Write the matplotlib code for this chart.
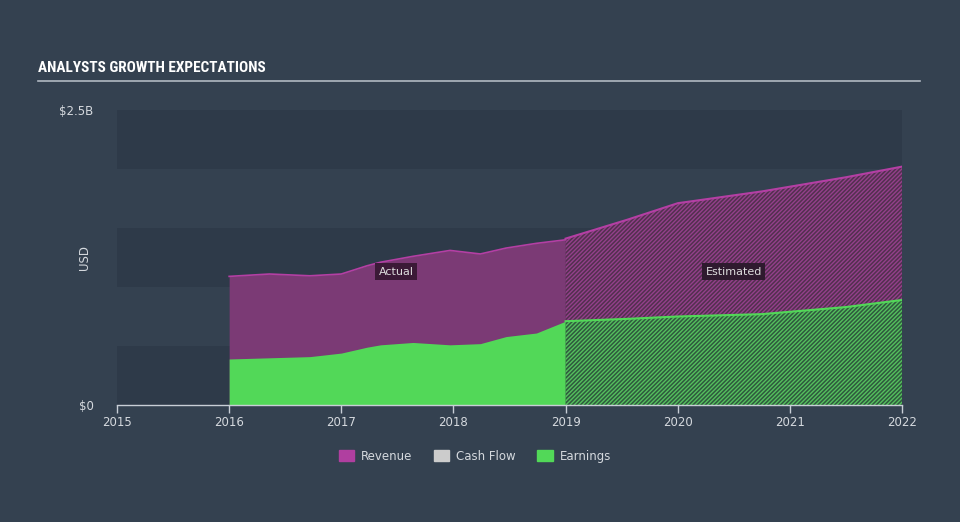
import matplotlib
matplotlib.use('Agg')
import matplotlib.pyplot as plt
import numpy as np
from matplotlib.patches import Patch

# actual (2016 -> 2019)
actYears = [2016.0, 2016.36, 2016.72, 2017.0, 2017.23, 2017.35, 2017.64, 2017.97, 2018.24, 2018.47, 2018.74, 2019.0]
actRevenue = [1.09, 1.11, 1.095, 1.11, 1.18, 1.21, 1.26, 1.31, 1.28, 1.33, 1.37, 1.40]
actEarnings = [0.39, 0.40, 0.41, 0.44, 0.49, 0.51, 0.53, 0.51, 0.52, 0.58, 0.61, 0.71]

# estimated (2019 -> 2022)
estYears = [2019.0, 2019.55, 2020.0, 2020.75, 2021.0, 2021.5, 2022.0]
estRevenue = [1.41, 1.57, 1.71, 1.81, 1.85, 1.93, 2.02]
estEarnings = [0.71, 0.73, 0.75, 0.77, 0.79, 0.83, 0.89]

xTicks = [2015, 2016, 2017, 2018, 2019, 2020, 2021, 2022]

bg = '#344150'
band = '#2e3a49'
revColor = '#7b3a75'
revLine = '#b43fa4'
earnColor = '#52d858'

plt.rcParams['font.family'] = ['DejaVu Sans']
plt.rcParams['hatch.linewidth'] = 1.0

fig = plt.figure(figsize=(9.6, 5.22), dpi=100, facecolor=bg)
ax = fig.add_axes([117/960, 117/522, 785/960, 295/522])
ax.set_facecolor(bg)
ax.set_xlim(2015, 2022)
ax.set_ylim(0, 2.5)

for y0 in [0.0, 1.0, 2.0]:
    ax.axhspan(y0, y0 + 0.5, color=band, lw=0, zorder=0)

# actual areas
ax.fill_between(actYears, 0, actRevenue, color=revColor, lw=0, zorder=2)
ax.plot(actYears, actRevenue, color=revLine, lw=1.2, zorder=3)
ax.fill_between(actYears, 0, actEarnings, color=earnColor, lw=0, zorder=4)

# estimated areas (hatched)
ax.fill_between(estYears, 0, estRevenue, facecolor='#53304f', edgecolor='#94408b',
                hatch='////////', lw=0, zorder=2)
ax.plot(estYears, estRevenue, color=revLine, lw=1.5, zorder=3)
ax.fill_between(estYears, 0, estEarnings, facecolor='#2f5a3e', edgecolor='#55c05e',
                hatch='////////', lw=0, zorder=4)
ax.plot(estYears, estEarnings, color=earnColor, lw=1.5, zorder=5)

ax.text(2017.49, 1.13, 'Actual', color='#dddddd', fontsize=8, ha='center', va='center',
        bbox=dict(boxstyle='square,pad=0.3', fc='#3b1a37', ec='none'), zorder=10)
ax.text(2020.5, 1.13, 'Estimated', color='#dddddd', fontsize=8, ha='center', va='center',
        bbox=dict(boxstyle='square,pad=0.3', fc='#2e1a2e', ec='none'), zorder=10)

for s in ['top', 'right', 'left']:
    ax.spines[s].set_visible(False)
ax.spines['bottom'].set_color('#c8ced6')
ax.spines['bottom'].set_linewidth(1)
ax.spines['bottom'].set_zorder(6)

ax.set_xticks(xTicks)
ax.set_xticklabels([str(x) for x in xTicks])
ax.tick_params(axis='x', colors='#c8ced6', length=6, width=1, labelsize=8.5, pad=2,
               labelcolor='#d5d9de')
ax.set_yticks([0, 2.5])
ax.set_yticklabels(['$0', '$2.5B'])
ax.tick_params(axis='y', length=0, labelsize=8.5, labelcolor='#d5d9de', pad=17)
ax.set_ylabel('USD', color='#d5d9de', fontsize=8.5)
ax.yaxis.set_label_coords(-0.033, 0.5)

fig.text(38/960, 1 - 68/522, 'ANALYSTS GROWTH EXPECTATIONS', color='white',
         fontsize=11, fontweight='bold', fontstretch='condensed',
         family=['Liberation Sans Narrow', 'DejaVu Sans Condensed', 'Roboto Condensed', 'DejaVu Sans'],
         va='center', ha='left')
fig.add_artist(plt.Line2D([38/960, 920/960], [1 - 81/522, 1 - 81/522], color='#b0b8c2', lw=1.2))

handles = [Patch(color='#b03fa0', label='Revenue'),
           Patch(color='#cccccc', label='Cash Flow'),
           Patch(color=earnColor, label='Earnings')]
leg = fig.legend(handles=handles, loc='center', bbox_to_anchor=(475/960, 1 - 456/522), ncol=3,
                 frameon=False, fontsize=8.5, handlelength=1.3, handleheight=1.0,
                 columnspacing=1.8, handletextpad=0.6)
for t in leg.get_texts():
    t.set_color('#d5d9de')

fig.savefig('out.png', dpi=100, facecolor=bg)
